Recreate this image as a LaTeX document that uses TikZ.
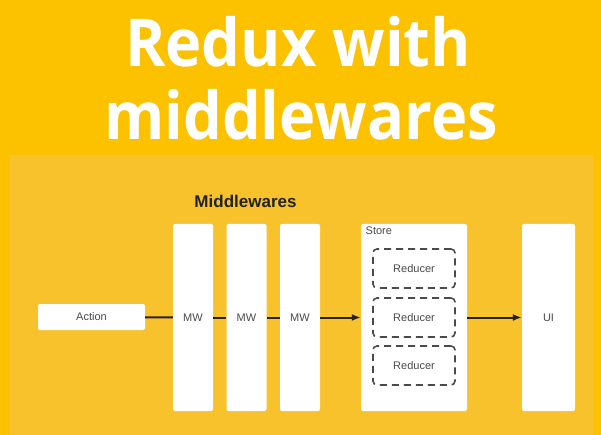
\documentclass[tikz,border=0pt]{standalone}
\usepackage{fontspec}
\setmainfont{Liberation Sans}
\newfontfamily\titlefont[FakeStretch=0.93]{Open Sans}
\usetikzlibrary{arrows.meta}
\definecolor{outerbg}{HTML}{FCC200}
\definecolor{panelbg}{HTML}{F7C22C}
\definecolor{boxtext}{HTML}{4A4A4A}
\definecolor{linedark}{HTML}{222222}
\begin{document}
\begin{tikzpicture}
        [x=1pt,y=-1pt,
         box/.style={fill=white,rounded corners=2pt,inner sep=0pt,text=boxtext,font=\fontsize{11}{13}\selectfont},
         tallbox/.style={box,minimum height=187pt},
         reducer/.style={draw=boxtext,dash pattern=on 7pt off 5pt,line width=1.6pt,rounded corners=4pt,
                         minimum width=82pt,minimum height=39pt,inner sep=0pt,text=boxtext,font=\fontsize{11}{13}\selectfont},
         conn/.style={draw=linedark,line width=2pt},
         arr/.style={conn,-{Latex[length=9pt,width=7pt]}}]
        \useasboundingbox (0,0) rectangle (601,435);
        %Background
        \fill[outerbg] (0,0) rectangle (601,435);
        \fill[panelbg] (10,155) rectangle (593,435);

        %Title
        \node[anchor=base,text=white,font=\titlefont\bfseries\fontsize{66}{66}\selectfont] (T1) at (298,67) {Redux with};
        \node[anchor=base,text=white,font=\titlefont\bfseries\fontsize{66}{66}\selectfont] (T2) at (301,140) {middlewares};

        %Left side
        \node[font=\bfseries\fontsize{17}{19}\selectfont,text=linedark] (MWL) at (245.5,201) {Middlewares};
        \node[box,minimum width=107pt,minimum height=26pt] (A) at (91.5,317) {Action};
        \node[tallbox,minimum width=40pt] (MW1) at (193,317.5) {MW};
        \node[tallbox,minimum width=40pt] (MW2) at (246.5,317.5) {MW};
        \node[tallbox,minimum width=40pt] (MW3) at (300,317.5) {MW};

        %Right side
        \node[tallbox,minimum width=106pt] (S) at (414,317.5) {};
        \node[anchor=north west,inner sep=0pt,text=boxtext,font=\fontsize{11}{13}\selectfont] (SL) at (365.5,226.5) {Store};
        \node[reducer] (R1) at (414,268.5) {Reducer};
        \node[reducer] (R2) at (414,317.5) {Reducer};
        \node[reducer] (R3) at (414,365.5) {Reducer};
        \node[tallbox,minimum width=53pt] (UI) at (548.5,317.5) {UI};

        \draw[conn] (A) -- (MW1);
        \draw[conn] (MW1) -- (MW2);
        \draw[conn] (MW2) -- (MW3);
        \draw[arr] (MW3) -- (S);
        \draw[arr] (S) -- (UI);
    \end{tikzpicture}
\end{document}
